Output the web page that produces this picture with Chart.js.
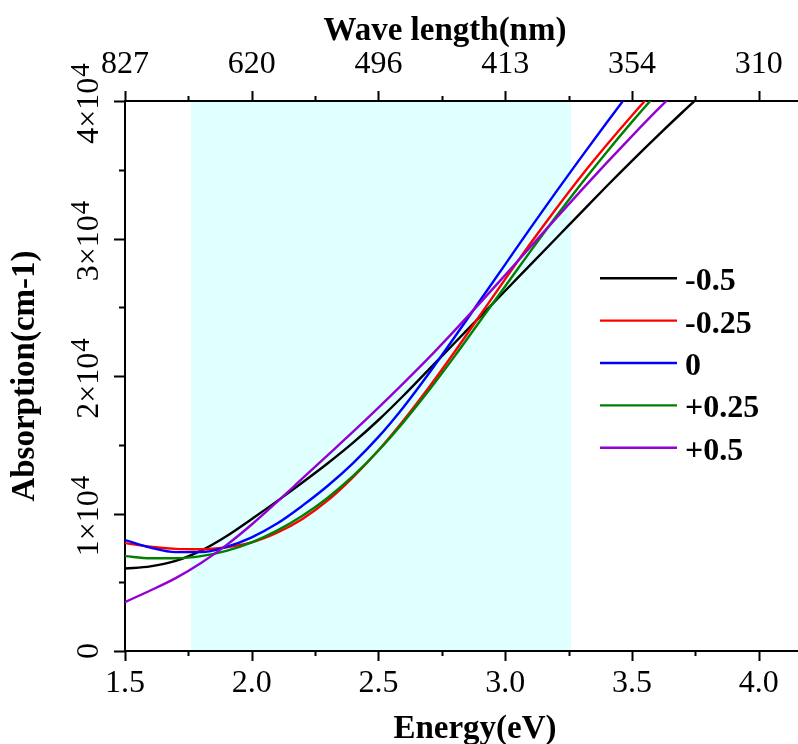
<!DOCTYPE html>
<html>
<head>
<meta charset="utf-8">
<script src="https://cdn.jsdelivr.net/npm/chart.js@4.4.1/dist/chart.umd.min.js"></script>
<style>
  html, body { margin: 0; padding: 0; background: #fff; }
  canvas { display: block; }
</style>
</head>
<body>
<canvas id="myChart" width="798" height="744"></canvas>
<script>
// Energia (eV) - eixo x
var energy = [1.5, 1.6, 1.7, 1.8, 1.9, 2.0, 2.1, 2.2, 2.3, 2.4, 2.5, 2.6,
              2.7, 2.8, 2.9, 3.0, 3.1, 3.2, 3.3, 3.4, 3.5, 3.6, 3.7, 3.8];

// Absorção (cm-1) para cada série
var absM05  = [6000, 6150, 6550, 7300, 8350, 9600, 10900, 12250, 13650, 15150, 16800, 18600,
               20500, 22400, 24300, 26200, 28100, 30000, 31900, 33800, 35650, 37450, 39200, 40900];
var absM025 = [7850, 7580, 7430, 7400, 7550, 7900, 8600, 9600, 10950, 12650, 14600, 16800,
               19200, 21750, 24400, 27050, 29650, 32150, 34550, 36800, 38950, 41000, 42950, 44800];
var absZero = [8070, 7520, 7190, 7190, 7570, 8270, 9270, 10570, 12020, 13670, 15570, 17770,
               20220, 22820, 25470, 28120, 30770, 33370, 35920, 38420, 40870, 43270, 45600, 47900];
var absP025 = [6900, 6750, 6750, 6900, 7280, 7900, 8750, 9830, 11150, 12730, 14580, 16680,
               18980, 21430, 23980, 26530, 29080, 31580, 33980, 36280, 38480, 40580, 42580, 44480];
var absP05  = [3560, 4400, 5300, 6400, 7700, 9200, 10850, 12550, 14250, 15950, 17700, 19500,
               21350, 23300, 25300, 27350, 29400, 31450, 33500, 35500, 37450, 39350, 41150, 42850];

var seriesNames = ['-0.5', '-0.25', '0', '+0.25', '+0.5'];
var seriesColors = ['#000000', '#ff0000', '#0000ff', '#008000', '#9400d3'];

// ticks
var energyTicks = [1.5, 2.0, 2.5, 3.0, 3.5, 4.0];
var waveTicks = ['827', '620', '496', '413', '354', '310'];
var absTicks = [0, 1, 2, 3, 4]; // x 10^4

// faixa visível (eV)
var visibleRange = [1.76, 3.26];

var FONT = "'Liberation Serif', 'Times New Roman', serif";

function toPoints(ys) {
  return energy.map(function (e, i) { return { x: e, y: ys[i] }; });
}

var allSeries = [absM05, absM025, absZero, absP025, absP05];
var datasets = allSeries.map(function (ys, i) {
  return {
    label: seriesNames[i],
    data: toPoints(ys),
    borderColor: seriesColors[i],
    backgroundColor: seriesColors[i],
    borderWidth: 2.4,
    pointRadius: 0,
    cubicInterpolationMode: 'monotone',
    clip: 0,
    order: allSeries.length - i
  };
});

// fundo ciano da faixa visível
var shadePlugin = {
  id: 'shade',
  beforeDraw: function (chart) {
    var ctx = chart.ctx, a = chart.chartArea, x = chart.scales.x;
    var x0 = x.getPixelForValue(visibleRange[0]);
    var x1 = x.getPixelForValue(visibleRange[1]);
    ctx.save();
    ctx.fillStyle = '#e0ffff';
    ctx.fillRect(x0, a.top, x1 - x0, a.bottom - a.top);
    ctx.restore();
  }
};

// ticks maiores/menores, rótulos do eixo y e títulos dos eixos x
var axisPlugin = {
  id: 'axisTicks',
  afterDraw: function (chart) {
    var ctx = chart.ctx, a = chart.chartArea;
    var x = chart.scales.x, y = chart.scales.y;
    ctx.save();
    ctx.strokeStyle = '#000';
    ctx.lineWidth = 2;
    ctx.beginPath();
    for (var i = 0; ; i++) {
      var e = x.min + i * 0.25;
      if (e > x.max + 1e-9) break;
      var px = Math.round(x.getPixelForValue(e)) + 0.5;
      var len = (i % 2 === 0) ? 10 : 5;
      ctx.moveTo(px, a.bottom); ctx.lineTo(px, a.bottom + len);
      ctx.moveTo(px, a.top); ctx.lineTo(px, a.top - len);
    }
    for (var j = 0; ; j++) {
      var v = j * 5000;
      if (v > y.max + 1e-9) break;
      var py = Math.round(y.getPixelForValue(v)) + 0.5;
      var l = (j % 2 === 0) ? 11 : 6;
      ctx.moveTo(a.left, py); ctx.lineTo(a.left - l, py);
    }
    ctx.stroke();

    ctx.fillStyle = '#000';
    ctx.textBaseline = 'alphabetic';
    absTicks.forEach(function (n) {
      var p = y.getPixelForValue(n * 1e4);
      ctx.save();
      ctx.translate(a.left - 27, p);
      ctx.rotate(-Math.PI / 2);
      if (n === 0) {
        ctx.font = '32px ' + FONT;
        ctx.textAlign = 'center';
        ctx.fillText('0', 0, 0);
      } else {
        var main = n + '\u00d710';
        ctx.font = '32px ' + FONT;
        var w1 = ctx.measureText(main).width;
        ctx.font = '27px ' + FONT;
        var w2 = ctx.measureText('4').width;
        var start = -(w1 + w2) / 2 - 3;
        ctx.textAlign = 'left';
        ctx.font = '32px ' + FONT;
        ctx.fillText(main, start, 0);
        ctx.font = '27px ' + FONT;
        ctx.fillText('4', start + w1 + 1, -9);
      }
      ctx.restore();
    });

    ctx.font = 'bold 33px ' + FONT;
    ctx.textAlign = 'center';
    ctx.fillText('Energy(eV)', a.left + 350, 738);
    ctx.fillText('Wave length(nm)', a.left + 320, 40);
    ctx.restore();
  }
};

// legenda dentro da área do gráfico
var legendPlugin = {
  id: 'sideLegend',
  afterDatasetsDraw: function (chart) {
    var ctx = chart.ctx, a = chart.chartArea;
    var lx = a.left + 475, ly = a.top + 177.3, gap = 42.35;
    ctx.save();
    ctx.font = 'bold 32px ' + FONT;
    ctx.textBaseline = 'alphabetic';
    ctx.textAlign = 'left';
    chart.data.datasets.forEach(function (ds, i) {
      var yy = ly + i * gap;
      ctx.strokeStyle = ds.borderColor;
      ctx.lineWidth = 2.4;
      ctx.beginPath();
      ctx.moveTo(lx, yy);
      ctx.lineTo(lx + 77, yy);
      ctx.stroke();
      ctx.fillStyle = '#000';
      ctx.fillText(ds.label, lx + 85, yy + 12);
    });
    ctx.restore();
  }
};

function noSidePadding(s) { s.paddingLeft = 0; s.paddingRight = 0; }

var ctx = document.getElementById('myChart').getContext('2d');
var myChart = new Chart(ctx, {
  type: 'line',
  data: { datasets: datasets },
  plugins: [shadePlugin, axisPlugin, legendPlugin],
  options: {
    responsive: false,
    animation: false,
    layout: { padding: 0 },
    plugins: { legend: { display: false }, tooltip: { enabled: false } },
    scales: {
      x: {
        type: 'linear', position: 'bottom', min: 1.5, max: 4.155,
        afterBuildTicks: function (s) { s.ticks = energyTicks.map(function (v) { return { value: v }; }); },
        afterFit: function (s) { s.height = 93; noSidePadding(s); },
        grid: { display: false, drawTicks: false },
        border: { display: true, color: '#000', width: 2 },
        ticks: {
          color: '#000', padding: 17, maxRotation: 0, autoSkip: false,
          font: { family: FONT, size: 32, lineHeight: 1 },
          callback: function (v) { return Number(v).toFixed(1); }
        }
      },
      x2: {
        type: 'linear', position: 'top', min: 1.5, max: 4.155,
        afterBuildTicks: function (s) { s.ticks = energyTicks.map(function (v) { return { value: v }; }); },
        afterFit: function (s) { s.height = 101; noSidePadding(s); },
        grid: { display: false, drawTicks: false },
        border: { display: true, color: '#000', width: 2 },
        ticks: {
          color: '#000', padding: 20, maxRotation: 0, autoSkip: false,
          font: { family: FONT, size: 32, lineHeight: 1 },
          callback: function (v, i) { return waveTicks[i]; }
        }
      },
      y: {
        type: 'linear', position: 'left', min: 0, max: 40000,
        afterBuildTicks: function (s) { s.ticks = absTicks.map(function (v) { return { value: v * 1e4 }; }); },
        afterFit: function (s) { s.width = 125; },
        grid: { display: false, drawTicks: false },
        border: { display: true, color: '#000', width: 2 },
        ticks: { display: false },
        title: {
          display: true, text: 'Absorption(cm-1)', color: '#000',
          font: { family: FONT, size: 33, weight: 'bold', lineHeight: 1 },
          padding: { top: 9, bottom: 0 }
        }
      }
    }
  }
});
</script>
</body>
</html>
